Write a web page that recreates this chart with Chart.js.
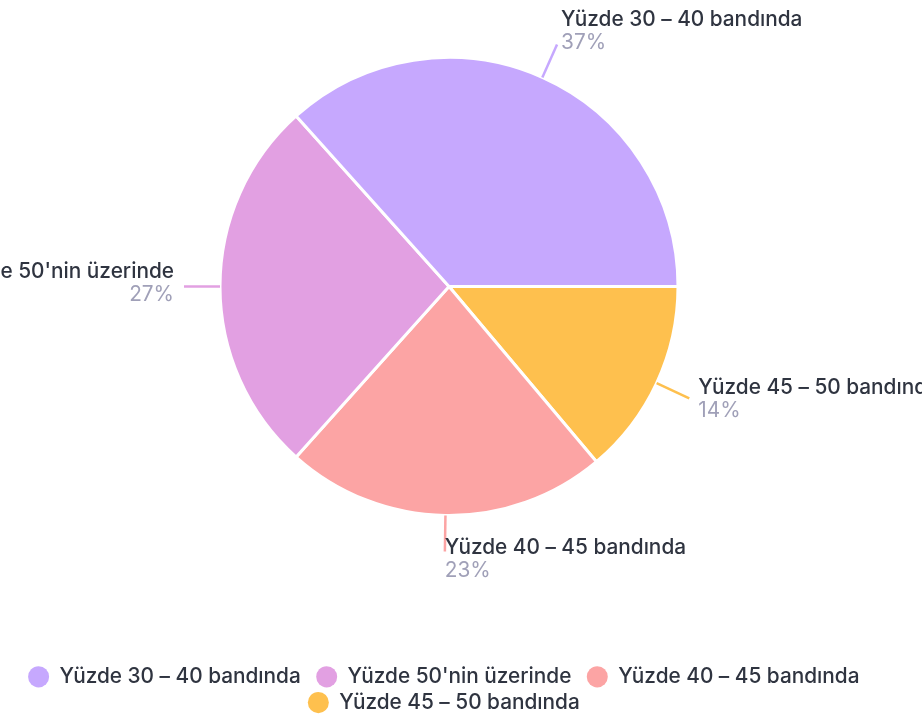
<!DOCTYPE html>
<html>
<head>
<meta charset="utf-8">
<script src="https://cdn.jsdelivr.net/npm/chart.js@4"></script>
<style>
  html, body { margin: 0; padding: 0; background: #fff; }
  #wrap { width: 922px; height: 715px; }
</style>
</head>
<body>
<div id="wrap"><canvas id="grafik"></canvas></div>
<script>
// veriler (lejant sırasıyla)
const kategoriler = ["Yüzde 30 – 40 bandında", "Yüzde 50'nin üzerinde", "Yüzde 40 – 45 bandında", "Yüzde 45 – 50 bandında"];
const yuzdeler = [37, 27, 23, 14];
const renkler = ["#c6a8fe", "#e2a0e2", "#fca4a4", "#fec04e"];

const FONT = "Inter, 'Noto Sans', sans-serif";

// dilimlerin dışına etiket + çizgi
const etiketEklentisi = {
  id: "etiketler",
  afterDatasetsDraw(chart) {
    const c = chart.ctx;
    const meta = chart.getDatasetMeta(0);
    const veri = chart.data.datasets[0].data;
    meta.data.forEach((arc, i) => {
      const p = arc.getProps(["x", "y", "startAngle", "endAngle", "outerRadius"], true);
      const orta = (p.startAngle + p.endAngle) / 2;
      const cos = Math.cos(orta), sin = Math.sin(orta);
      const r1 = p.outerRadius, r2 = p.outerRadius + 36;
      const bx = p.x + cos * r2, by = p.y + sin * r2;

      c.save();
      c.strokeStyle = chart.data.datasets[0].backgroundColor[i];
      c.lineWidth = 2.5;
      c.beginPath();
      c.moveTo(p.x + cos * r1, p.y + sin * r1);
      c.lineTo(bx, by);
      c.stroke();

      const tx = bx + cos * 10;
      const cy = by - 4 + sin * 11;
      c.textAlign = cos < -0.2 ? "right" : "left";
      c.textBaseline = "middle";
      c.font = "500 20.8px " + FONT;
      c.fillStyle = "#2f3440";
      c.fillText(chart.data.labels[i], tx, cy - 11);
      c.font = "20.8px " + FONT;
      c.fillStyle = "#a0a0b8";
      c.fillText(veri[i] + "%", tx, cy + 12);
      c.restore();
    });
  }
};

// Chart.js saat yönünde çizer, grafik ise ters yönde: diziyi ters çevirip lejantı da ters gösteriyoruz
const grafik = new Chart(document.getElementById("grafik"), {
  type: "pie",
  data: {
    labels: kategoriler.slice().reverse(),
    datasets: [{
      data: yuzdeler.slice().reverse(),
      backgroundColor: renkler.slice().reverse(),
      borderColor: "#ffffff",
      borderWidth: 3
    }]
  },
  options: {
    responsive: true,
    maintainAspectRatio: false,
    animation: false,
    events: [],
    rotation: 90,
    layout: { padding: { top: 56, bottom: -8, left: 0, right: 24 } },
    plugins: {
      tooltip: { enabled: false },
      legend: {
        position: "bottom",
        reverse: true,
        title: { display: true, text: "", padding: { top: 130, bottom: 0 } },
        labels: {
          usePointStyle: true,
          pointStyle: "circle",
          boxHeight: 15,
          pointStyleWidth: 21,
          padding: 5,
          color: "#2f3440",
          font: { family: FONT, size: 20.8, weight: "500" },
          generateLabels(chart) {
            const items = Chart.overrides.pie.plugins.legend.labels.generateLabels(chart);
            items.forEach(it => { it.text = it.text + "\u2002"; it.lineWidth = 0; });
            return items;
          }
        }
      }
    }
  },
  plugins: [etiketEklentisi]
});
</script>
</body>
</html>
